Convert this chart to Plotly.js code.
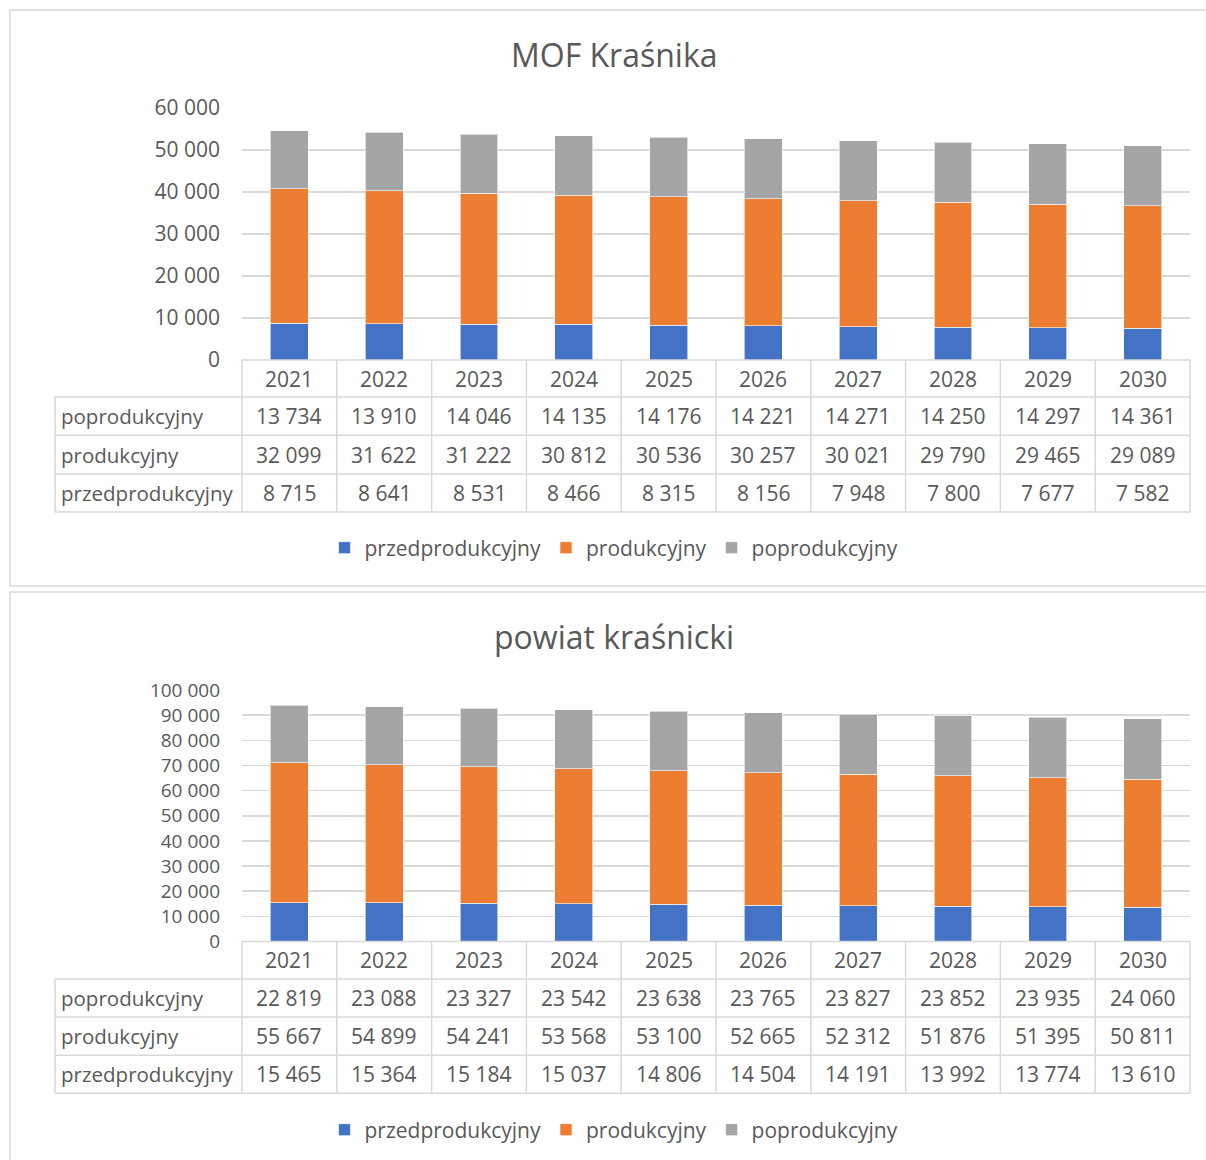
<!DOCTYPE html>
<html>
<head>
<meta charset="utf-8">
<script src="https://cdn.plot.ly/plotly-3.0.1.min.js"></script>
<style>html,body{margin:0;padding:0;background:#fff;}#chart{width:1206px;height:1160px;}</style>
</head>
<body>
<div id="chart"></div>
<script>
// ---- data ----
const years = ['2021','2022','2023','2024','2025','2026','2027','2028','2029','2030'];
const seriesNames = ['przedprodukcyjny','produkcyjny','poprodukcyjny'];
const chartTitles = ['MOF Kraśnika','powiat kraśnicki'];
const mofPrzed = [8715,8641,8531,8466,8315,8156,7948,7800,7677,7582];
const mofProd = [32099,31622,31222,30812,30536,30257,30021,29790,29465,29089];
const mofPoprod = [13734,13910,14046,14135,14176,14221,14271,14250,14297,14361];
const powPrzed = [15465,15364,15184,15037,14806,14504,14191,13992,13774,13610];
const powProd = [55667,54899,54241,53568,53100,52665,52312,51876,51395,50811];
const powPoprod = [22819,23088,23327,23542,23638,23765,23827,23852,23935,24060];
const colors = ['#4472C4','#ED7D31','#A5A5A5'];

// ---- layout helpers (pixels -> paper) ----
const W = 1206, H = 1160;
const fx = p => p / W;
const fy = p => 1 - p / H;
const TXT = '#595959', LINE = '#D9D9D9';
const FONT = '"Open Sans", "Noto Sans", sans-serif';
const FS = 21;
const plotL = 242, plotR = 1190, labelL = 55;
const colW = (plotR - plotL) / years.length;

const charts = [
  {title: chartTitles[0], series: [mofPrzed, mofProd, mofPoprod], xa: 'x', ya: 'y', legend: 'legend',
   plotTop: 108, rows: [360, 397, 435.3, 474, 512], titleY: 54, legendY: 548, frame: [10, 586], ymax: 60000, tickFS: 21},
  {title: chartTitles[1], series: [powPrzed, powProd, powPoprod], xa: 'x2', ya: 'y2', legend: 'legend2',
   plotTop: 690, rows: [941.5, 979, 1017, 1055.3, 1093.3], titleY: 636, legendY: 1130, frame: [592, 1175], ymax: 100000, tickFS: 19}
];

const fmt = n => String(n).replace(/\B(?=(\d{3})+(?!\d))/g, ' ');

const traces = [];
const shapes = [];
const annotations = [];
const layout = {
  width: W, height: H,
  margin: {l: 0, r: 0, t: 0, b: 0},
  paper_bgcolor: '#fff', plot_bgcolor: '#fff',
  barmode: 'stack', bargap: 0.6,
  separators: ', ',
  font: {family: FONT, color: TXT, size: FS},
  showlegend: true
};

charts.forEach((c, ci) => {
  const sfx = ci === 0 ? '' : '2';
  // bars
  c.series.forEach((vals, si) => {
    traces.push({
      type: 'bar', x: years, y: vals, name: seriesNames[si],
      xaxis: c.xa, yaxis: c.ya, legend: c.legend,
      marker: {color: colors[si], line: {color: 'rgba(255,255,255,0.6)', width: 1}},
      hoverinfo: 'x+y+name'
    });
  });
  layout['xaxis' + sfx] = {
    type: 'category', domain: [fx(plotL), fx(plotR)], range: [-0.5, years.length - 0.5],
    anchor: 'y' + sfx, showticklabels: false, showgrid: false, zeroline: false, showline: false,
    fixedrange: true
  };
  layout['yaxis' + sfx] = {
    domain: [fy(c.rows[0]), fy(c.plotTop)], range: [0, c.ymax], dtick: 10000,
    anchor: 'x' + sfx, tickformat: ',d', showgrid: true, gridcolor: LINE, gridwidth: 1.5,
    zeroline: false, showline: false, ticklabelstandoff: 21,
    tickfont: {size: c.tickFS, color: TXT, family: FONT}, fixedrange: true
  };
  // legend
  layout[c.legend] = {
    orientation: 'h', x: fx(614), xanchor: 'center', y: fy(c.legendY), yanchor: 'middle',
    font: {size: FS, color: TXT, family: FONT}, traceorder: 'normal', bgcolor: 'rgba(0,0,0,0)'
  };
  // title
  annotations.push({
    xref: 'paper', yref: 'paper', x: fx(614), y: fy(c.titleY), xanchor: 'center', yanchor: 'middle',
    text: c.title, showarrow: false, font: {size: 32, color: TXT, family: FONT}
  });
  // frame
  shapes.push({type: 'rect', xref: 'paper', yref: 'paper', x0: fx(10), x1: fx(1215),
    y0: fy(c.frame[1]), y1: fy(c.frame[0]), line: {color: LINE, width: 1.5}, layer: 'below'});
  // table lines
  const r = c.rows;
  shapes.push({type: 'line', xref: 'paper', yref: 'paper', x0: fx(plotL), x1: fx(plotR), y0: fy(r[0]), y1: fy(r[0]), line: {color: LINE, width: 1.5}});
  for (let k = 1; k < r.length; k++) {
    shapes.push({type: 'line', xref: 'paper', yref: 'paper', x0: fx(labelL), x1: fx(plotR), y0: fy(r[k]), y1: fy(r[k]), line: {color: LINE, width: 1.5}});
  }
  shapes.push({type: 'line', xref: 'paper', yref: 'paper', x0: fx(labelL), x1: fx(labelL), y0: fy(r[1]), y1: fy(r[4]), line: {color: LINE, width: 1.5}});
  for (let k = 0; k <= years.length; k++) {
    const xx = fx(plotL + k * colW);
    shapes.push({type: 'line', xref: 'paper', yref: 'paper', x0: xx, x1: xx, y0: fy(r[0]), y1: fy(r[4]), line: {color: LINE, width: 1.5}});
  }
  // header row: years (positioned on the category axis by index)
  years.forEach((yr, i) => {
    annotations.push({xref: c.xa, yref: 'paper', x: i, y: fy((r[0] + r[1]) / 2), xanchor: 'center', yanchor: 'middle',
      text: yr, showarrow: false, font: {size: FS, color: TXT, family: FONT}});
  });
  // data rows: poprodukcyjny, produkcyjny, przedprodukcyjny
  const rowOrder = [2, 1, 0];
  rowOrder.forEach((si, ri) => {
    const yc = fy((r[ri + 1] + r[ri + 2]) / 2);
    annotations.push({xref: 'paper', yref: 'paper', x: fx(59), y: yc, xanchor: 'left', yanchor: 'middle',
      text: seriesNames[si], showarrow: false, font: {size: 20.5, color: TXT, family: FONT}});
    c.series[si].forEach((v, i) => {
      annotations.push({xref: c.xa, yref: 'paper', x: i, y: yc, xanchor: 'center', yanchor: 'middle',
        text: fmt(v), showarrow: false, font: {size: FS, color: TXT, family: FONT}});
    });
  });
});

layout.shapes = shapes;
layout.annotations = annotations;

Plotly.newPlot('chart', traces, layout, {displayModeBar: false, staticPlot: true});
</script>
</body>
</html>
